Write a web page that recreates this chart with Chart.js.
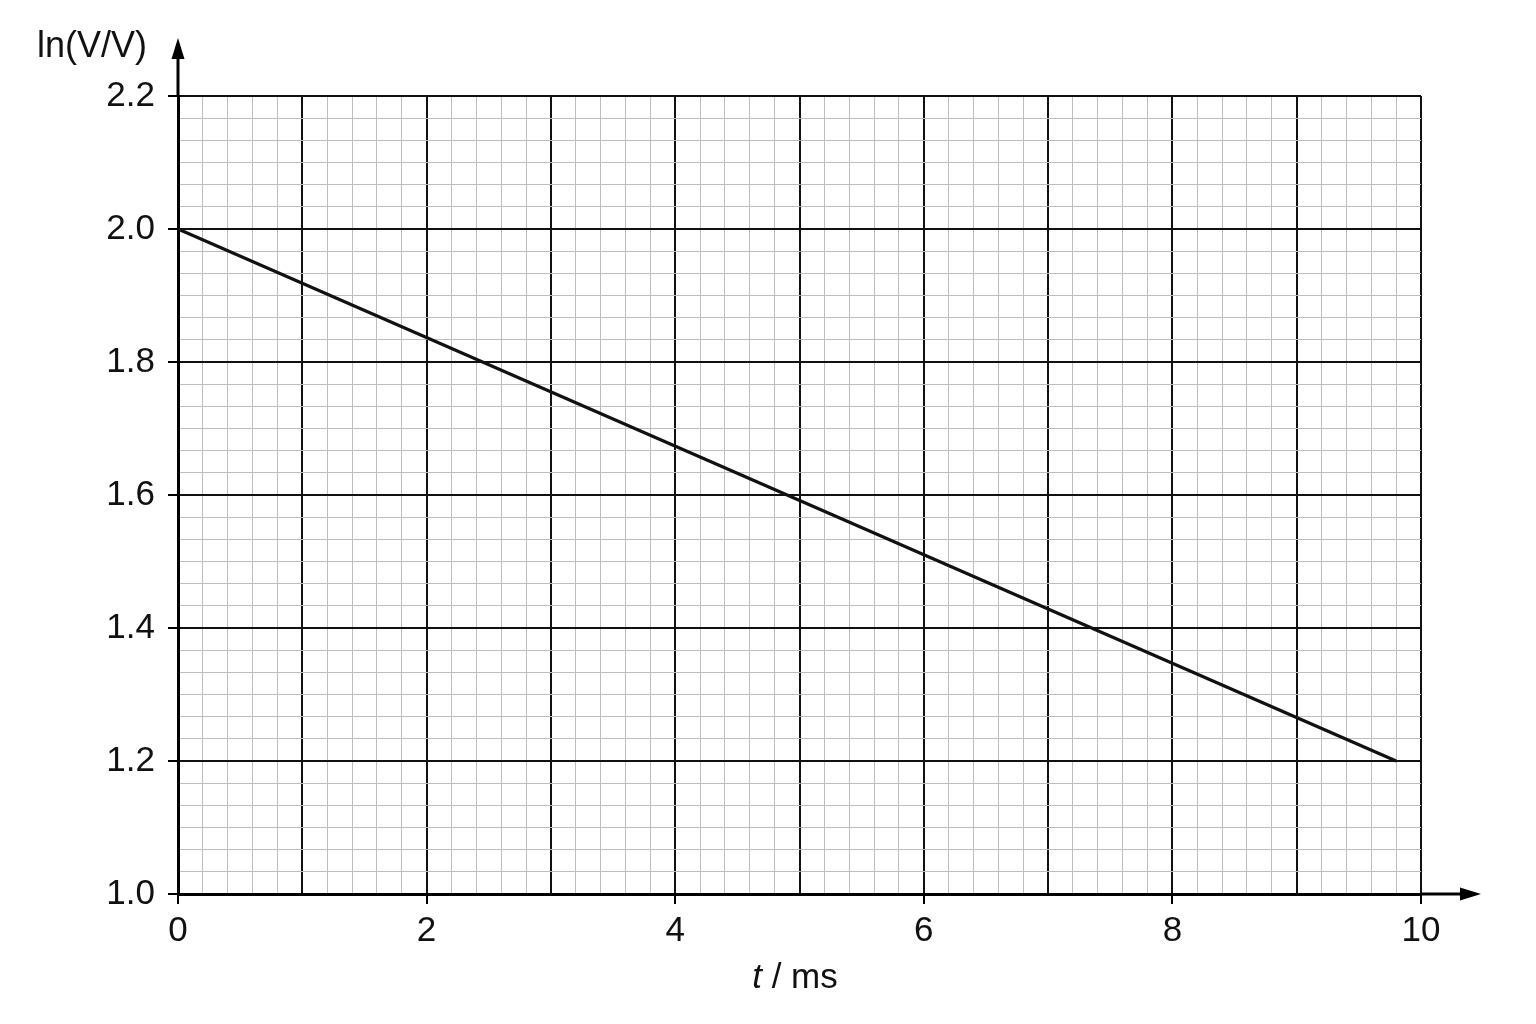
<!DOCTYPE html>
<html>
<head>
<meta charset="utf-8">
<title>ln(V/V) against t</title>
<script src="https://cdn.jsdelivr.net/npm/chart.js@4.4.1/dist/chart.umd.min.js"></script>
<style>
  html,body{margin:0;padding:0;background:#fff;}
  #wrap{width:1536px;height:1024px;position:relative;}
</style>
</head>
<body>
<div id="wrap"><canvas id="myChart"></canvas></div>
<script>
// values
const t_ms=[0,9.8]
const lnV=[2.0,1.2]

// tick labels
const xTickLabels=['0','2','4','6','8','10']
const yTickLabels=['1.0','1.2','1.4','1.6','1.8','2.0','2.2']

const FONT='"Liberation Sans", Arial, sans-serif'
const ctx=document.getElementById('myChart').getContext('2d')

// graph paper: 5 small squares per ms, 6 small squares per 0.2
function paperTicksX(scale){
	let ticks=[]
	for(let i=0;i<=50;i++){ticks.push({value:i/5})}
	scale.ticks=ticks
}
function paperTicksY(scale){
	let ticks=[]
	for(let i=0;i<=36;i++){ticks.push({value:(30+i)/30})}
	scale.ticks=ticks
}

const extras={
	id:'extras',
	afterDraw(chart){
		const c=chart.ctx
		const a=chart.chartArea
		c.save()
		c.strokeStyle='#000'
		c.fillStyle='#000'
		c.lineWidth=3
		// y axis arrow
		c.beginPath()
		c.moveTo(a.left,a.top)
		c.lineTo(a.left,52)
		c.stroke()
		c.beginPath()
		c.moveTo(a.left,38)
		c.lineTo(a.left-6.5,59)
		c.lineTo(a.left+6.5,59)
		c.closePath()
		c.fill()
		// x axis arrow
		c.beginPath()
		c.moveTo(a.right,a.bottom)
		c.lineTo(1466,a.bottom)
		c.stroke()
		c.beginPath()
		c.moveTo(1481,a.bottom)
		c.lineTo(1460,a.bottom-6.5)
		c.lineTo(1460,a.bottom+6.5)
		c.closePath()
		c.fill()
		// axis titles
		c.fillStyle='#111'
		c.textBaseline='alphabetic'
		c.textAlign='left'
		c.font='36px '+FONT
		c.fillText('ln(V/V)',37,57)
		c.font='italic 35px '+FONT
		const wt=c.measureText('t').width
		c.font='35px '+FONT
		const wr=c.measureText(' / ms').width
		let x0=795-(wt+wr)/2
		c.font='italic 35px '+FONT
		c.fillText('t',x0,988)
		c.font='35px '+FONT
		c.fillText(' / ms',x0+wt,988)
		c.restore()
	}
}

new Chart(ctx,{
	type:'line',
	data:{
		datasets:[{
			data:t_ms.map((t,i)=>({x:t,y:lnV[i]})),
			borderColor:'#111',
			borderWidth:3.2,
			pointRadius:0,
			fill:false,
		}]
	},
	options:{
		responsive:true,
		maintainAspectRatio:false,
		animation:false,
		layout:{padding:{left:0,top:96,right:115,bottom:0}},
		plugins:{legend:{display:false},tooltip:{enabled:false}},
		scales:{
			x:{
				type:'linear',
				min:0,
				max:10,
				afterBuildTicks:paperTicksX,
				afterFit:(s)=>{s.height=130},
				border:{display:true,color:'#000',width:3},
				grid:{
					color:(c)=>c.index%5===0?'#111':'#bdbdbd',
					lineWidth:(c)=>c.index%5===0?2:1,
					tickLength:10,
					tickColor:(c)=>c.index%10===0?'#000':'rgba(0,0,0,0)',
					tickWidth:2,
				},
				ticks:{
					autoSkip:false,
					maxRotation:0,
					padding:6,
					color:'#111',
					font:{family:FONT,size:35},
					callback:(v,i)=>i%10===0?xTickLabels[i/10]:'',
				}
			},
			y:{
				type:'linear',
				min:1.0,
				max:2.2,
				afterBuildTicks:paperTicksY,
				afterFit:(s)=>{s.width=178},
				border:{display:true,color:'#000',width:3},
				grid:{
					color:(c)=>c.index%6===0?'#111':'#bdbdbd',
					lineWidth:(c)=>c.index%6===0?2:1,
					tickLength:10,
					tickColor:(c)=>c.index%6===0?'#000':'rgba(0,0,0,0)',
					tickWidth:2,
				},
				ticks:{
					autoSkip:false,
					padding:13,
					color:'#111',
					font:{family:FONT,size:35},
					callback:(v,i)=>i%6===0?yTickLabels[i/6]:'',
				}
			}
		}
	},
	plugins:[extras]
})
</script>
</body>
</html>
